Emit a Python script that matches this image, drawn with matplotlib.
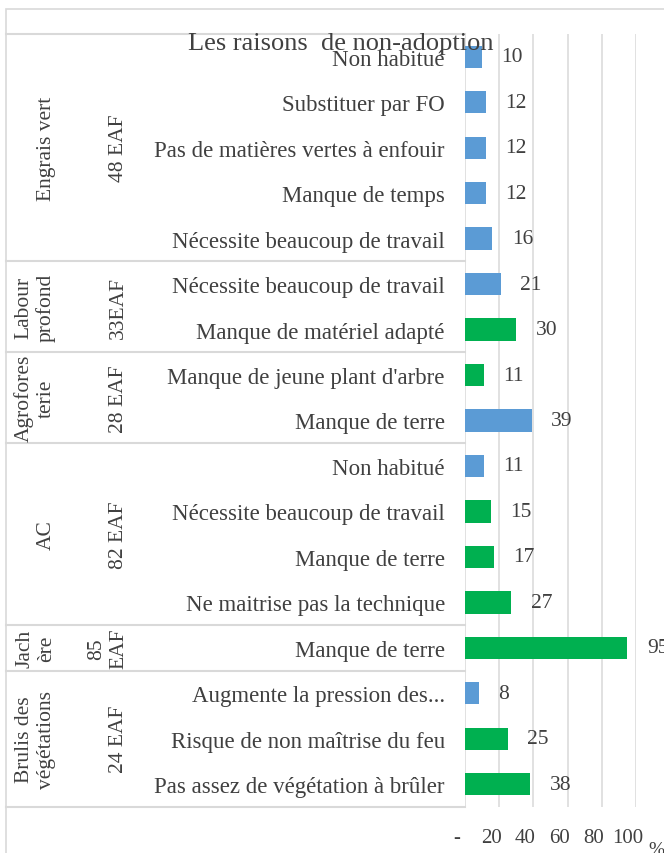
import matplotlib.pyplot as plt
import matplotlib.transforms as mtransforms
from matplotlib.lines import Line2D
from matplotlib.patches import Rectangle

plt.rcParams['font.family'] = ['Liberation Serif', 'DejaVu Serif']

# categories (top to bottom)
practices = ['Engrais vert', 'Labour\nprofond', 'Agrofores\nterie', 'AC', 'Jach\nère', 'Brulis des\nvégétations']
farms = ['48 EAF', '33EAF', '28 EAF', '82 EAF', '85\nEAF', '24 EAF']
group_sizes = [5, 2, 2, 4, 1, 3]

reasons = ['Non habitué', 'Substituer par FO', 'Pas de matières vertes à enfouir',
           'Manque de temps', 'Nécessite beaucoup de travail',
           'Nécessite beaucoup de travail', 'Manque de matériel adapté',
           'Manque de jeune plant d\'arbre', 'Manque de terre',
           'Non habitué', 'Nécessite beaucoup de travail', 'Manque de terre',
           'Ne maitrise pas la technique',
           'Manque de terre',
           'Augmente la pression des...', 'Risque de non maîtrise du feu',
           'Pas assez de végétation à brûler']
values = [10, 12, 12, 12, 16, 21, 30, 11, 39, 11, 15, 17, 27, 95, 8, 25, 38]
# 'b' = blue series, 'g' = green series
series = ['b', 'b', 'b', 'b', 'b', 'b', 'g', 'g', 'b', 'b', 'g', 'g', 'g', 'g', 'b', 'g', 'g']

xticks = [0, 20, 40, 60, 80, 100]
xticklabels = ['-', '20', '40', '60', '80', '100']

blue = '#5B9BD5'
green = '#00B050'
grey = '#D9D9D9'
txt = '#404040'

W, H = 664, 854
fig = plt.figure(figsize=(W / 100, H / 100), dpi=100)

# outer chart border
fig.add_artist(Rectangle((6 / W, -0.05), 1.1, 1 - 10 / H + 0.05, transform=fig.transFigure,
                         fill=False, edgecolor=grey, lw=1.2))

ax = fig.add_axes([465 / W, 1 - 808 / H, (636 - 465) / W, (808 - 35) / H])
n = len(values)
pos = list(range(n))
colors = [blue if s == 'b' else green for s in series]
ax.barh(pos, values, height=0.49, color=colors, zorder=3)
ax.set_ylim(n - 0.5, -0.5)
ax.set_xlim(0, 100)

for s in ax.spines.values():
    s.set_visible(False)
ax.set_xticks(xticks)
ax.set_xticklabels(xticklabels)
ax.grid(axis='x', color=grey, lw=1.1, zorder=0)
ax.set_yticks(pos)
ax.set_yticklabels(reasons)
ax.tick_params(axis='y', length=0, pad=14.5, labelsize=16.5, labelcolor=txt)
ax.tick_params(axis='x', length=0, pad=15, labelsize=15, labelcolor=txt)
shift = mtransforms.ScaledTranslation(-8 / 100, 0, fig.dpi_scale_trans)
for lab in ax.get_xticklabels():
    lab.set_transform(lab.get_transform() + shift)

for i, v in enumerate(values):
    ax.annotate(str(v), (v, i), xytext=(14, 0), textcoords='offset points',
                va='center', ha='left', fontsize=15.5, color=txt, annotation_clip=False)

# multi-level category table on the left
tr = mtransforms.blended_transform_factory(fig.transFigure, ax.transData)
start = -0.5
bounds = [start]
for gs in group_sizes:
    bounds.append(bounds[-1] + gs)
for b in bounds:
    fig.add_artist(Line2D([6 / W, 465 / W], [b, b], transform=tr, color=grey, lw=1.5))
for k, (p, f) in enumerate(zip(practices, farms)):
    yc = (bounds[k] + bounds[k + 1]) / 2
    fig.text(56 / W, yc, p, transform=tr, rotation=90, ha='right', va='center',
             fontsize=15.5, color=txt, linespacing=1.2, multialignment='center')
    fig.text(128 / W, yc, f, transform=tr, rotation=90, ha='right', va='center',
             fontsize=15.5, color=txt, linespacing=1.2, multialignment='center')

fig.text(341 / W, 1 - 50 / H, 'Les raisons  de non-adoption', ha='center', va='baseline',
         fontsize=19, color=txt)
fig.text(656 / W, 1 - 851 / H, '%', ha='center', va='center', fontsize=14, color=txt)

fig.savefig('out.png', dpi=100, facecolor='white')
